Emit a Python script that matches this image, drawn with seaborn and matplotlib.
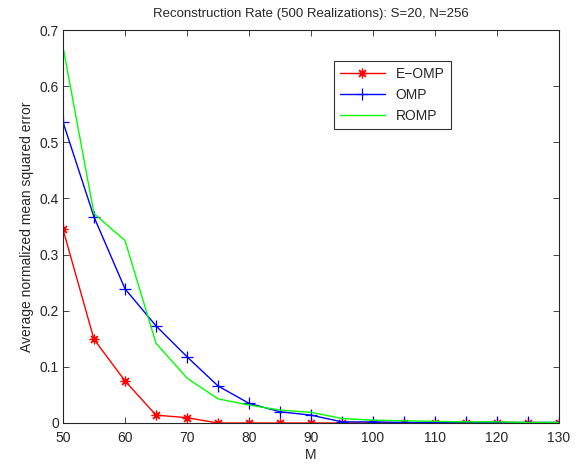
import matplotlib
matplotlib.use("Agg")
import matplotlib.pyplot as plt
import numpy as np
import pandas as pd
import seaborn as sns

m_values = [50, 55, 60, 65, 70, 75, 80, 85, 90, 95, 100, 105, 110, 115, 120, 125, 130]
e_omp = [0.345, 0.149, 0.075, 0.014, 0.0095, 0, 0, 0, 0, 0, 0, 0, 0, 0, 0, 0, 0]
omp = [0.536, 0.367, 0.239, 0.173, 0.118, 0.066, 0.035, 0.020, 0.014,
       0.002, 0.002, 0.001, 0.001, 0.001, 0.001, 0.001, 0.001]
romp = [0.670, 0.373, 0.325, 0.142, 0.080, 0.043, 0.032, 0.023, 0.019,
        0.008, 0.005, 0.004, 0.003, 0.002, 0.002, 0.001, 0.001]
series_names = ["E\u2212OMP", "OMP", "ROMP"]
x_ticks = list(range(50, 131, 10))
y_ticks = [0, 0.1, 0.2, 0.3, 0.4, 0.5, 0.6, 0.7]
y_tick_labels = ["0", "0.1", "0.2", "0.3", "0.4", "0.5", "0.6", "0.7"]

sns.set_style("ticks")
plt.rcParams["font.family"] = ["Liberation Sans", "DejaVu Sans"]
plt.rcParams["xtick.direction"] = "in"
plt.rcParams["ytick.direction"] = "in"

df = pd.DataFrame({"M": m_values, series_names[0]: e_omp,
                   series_names[1]: omp, series_names[2]: romp})
df_long = df.melt(id_vars="M", var_name="method", value_name="err")

fig = plt.figure(figsize=(5.81, 4.66), dpi=100)
ax = fig.add_axes([63 / 581, 1 - 423 / 466, 496 / 581, 393 / 466])

colors = {series_names[0]: "#ff0000", series_names[1]: "#0000ff", series_names[2]: "#00ff00"}
markers = {series_names[0]: (8, 2, 0), series_names[1]: "+", series_names[2]: None}
sizes = {series_names[0]: 7, series_names[1]: 9, series_names[2]: 0}
for name in series_names:
    sub = df_long[df_long["method"] == name]
    sns.lineplot(data=sub, x="M", y="err", ax=ax, color=colors[name], lw=1,
                 marker=markers[name], markersize=sizes[name],
                 markeredgewidth=0.9, markeredgecolor=colors[name], label=name)

ax.set_xlim(50, 130)
ax.set_ylim(0, 0.7)
ax.set_xticks(x_ticks)
ax.set_yticks(y_ticks, labels=y_tick_labels)
ax.tick_params(top=True, right=True, labelsize=10, length=4, width=0.6)
ax.tick_params(axis="x", pad=6)
ax.tick_params(axis="y", pad=3)
for s in ax.spines.values():
    s.set_linewidth(0.8)
ax.set_xlabel("M", fontsize=10, labelpad=2)
ax.set_ylabel("Average normalized mean squared error", fontsize=10, labelpad=4)
ax.set_title("Reconstruction Rate (500 Realizations): S=20, N=256", fontsize=9.5, pad=9)

leg = ax.legend(loc="upper left", bbox_to_anchor=(271 / 496, 1 - 31 / 393),
                fontsize=10, frameon=True, fancybox=False, borderpad=0.45,
                handlelength=3.2, labelspacing=0.5, borderaxespad=0, numpoints=1)
leg.get_frame().set_edgecolor("black")
leg.get_frame().set_linewidth(0.8)

fig.savefig("out.png", dpi=100)
